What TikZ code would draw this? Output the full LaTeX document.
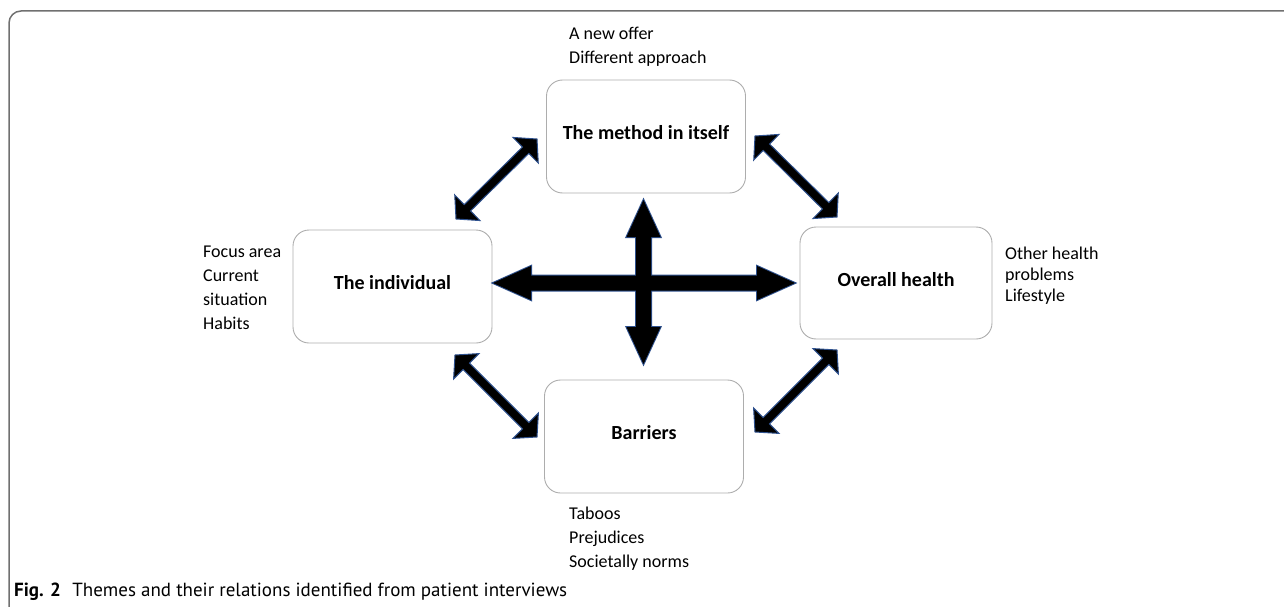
\documentclass[tikz,border=0pt]{standalone}
\usepackage{fontspec}
\setmainfont{Carlito}
\newfontfamily\capfont{PT Sans}
\usetikzlibrary{calc}
\definecolor{arrowblue}{HTML}{2F528F}
\definecolor{boxgray}{HTML}{ADADAD}
\definecolor{framegray}{HTML}{707070}
% #1 style, #2 start, #3 end, #4 half shaft, #5 half head, #6 head length
\newcommand{\blockarrow}[6][]{%
  \path[#1] ($(#2)!#6!(#3)!#4!90:(#3)$) -- ($(#3)!#6!(#2)!#4!-90:(#2)$)
    -- ($(#3)!#6!(#2)!#5!-90:(#2)$) -- (#3) -- ($(#3)!#6!(#2)!#5!90:(#2)$)
    -- ($(#3)!#6!(#2)!#4!90:(#2)$) -- ($(#2)!#6!(#3)!#4!-90:(#3)$)
    -- ($(#2)!#6!(#3)!#5!-90:(#3)$) -- (#2) -- ($(#2)!#6!(#3)!#5!90:(#3)$) -- cycle;}
\begin{document}
\begin{tikzpicture}[x=1pt,y=-1pt,
  theme/.style={draw=boxgray, line width=0.9pt, rounded corners=16pt, fill=white,
    minimum width=199pt, minimum height=113pt, inner sep=0pt,
    text height=12pt, text depth=6pt,
    font=\fontsize{20}{24}\selectfont\bfseries},
  sidetext/.style={anchor=base west, align=left, inner sep=0pt,
    font=\fontsize{18}{24}\selectfont},
  arrowout/.style={draw=arrowblue, line width=2pt, line join=miter},
  arrowfill/.style={fill=black},
  diagarrow/.style={draw=arrowblue, fill=black, line width=1pt, line join=miter}]
\useasboundingbox (0,0) rectangle (1284,607);
% frame
\draw[framegray, line width=1.5pt, rounded corners=12pt] (9,620) -- (9,11) -- (1300,11);
% boxes
\node[theme] (meth) at (646,136.5) {The method in itself};
\node[theme] (indiv) at (392.5,286.5) {The individual};
\node[theme, minimum width=192pt, minimum height=112pt] (health) at (896,283) {Overall health};
\node[theme] (barr) at (644,436.5) {Barriers};
% side texts (anchor = baseline of last line)
\node[sidetext] (methtxt) at (569,63.5) {A new offer\\Different approach};
\node[sidetext] (barrtxt) at (569,567) {Taboos\\Prejudices\\Societally norms};
\node[sidetext, font=\fontsize{18}{23.7}\selectfont] (indtxt) at (203,329) {Focus area\\Current\\situation\\Habits};
\node[sidetext, font=\fontsize{18}{21}\selectfont] (healthtxt) at (1005,301) {Other health\\problems\\Lifestyle};
% cross arrow
\coordinate (cl) at (493,283);
\coordinate (cr) at (795,283);
\coordinate (ct) at (643.5,200);
\coordinate (cb) at (643.5,364);
\blockarrow[arrowout]{cl}{cr}{7.5pt}{17pt}{38pt}
\blockarrow[arrowout]{ct}{cb}{7.5pt}{17pt}{37pt}
\blockarrow[arrowfill]{cl}{cr}{7.5pt}{17pt}{38pt}
\blockarrow[arrowfill]{ct}{cb}{7.5pt}{17pt}{37pt}
% diagonal arrows
\coordinate (tla) at (456,219);
\coordinate (tlb) at (537,139);
\coordinate (tra) at (755,136);
\coordinate (trb) at (837,217);
\coordinate (bla) at (455,355);
\coordinate (blb) at (537,437);
\coordinate (bra) at (755,432);
\coordinate (brb) at (837,350);
\blockarrow[diagarrow]{tla}{tlb}{4.5pt}{18pt}{16pt}
\blockarrow[diagarrow]{tra}{trb}{4.5pt}{18pt}{16pt}
\blockarrow[diagarrow]{bla}{blb}{4.5pt}{18pt}{16pt}
\blockarrow[diagarrow]{bra}{brb}{4.5pt}{18pt}{16pt}
% caption
\node[anchor=base west, inner sep=0pt, font=\capfont\fontsize{19}{22}\selectfont] (cap) at (14,596)
  {\textbf{Fig. 2}\hspace{0.6em}Themes and their relations identified from patient interviews};
\end{tikzpicture}
\end{document}
